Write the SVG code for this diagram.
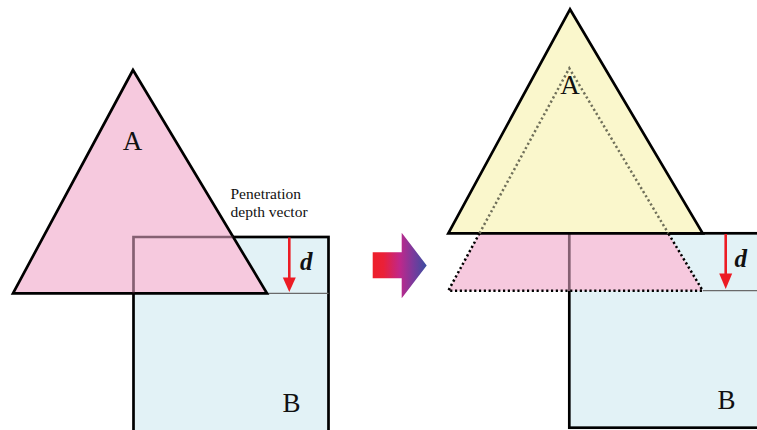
<svg xmlns="http://www.w3.org/2000/svg" width="757" height="430" viewBox="0 0 757 430">
<style>
.lbl{font-family:"Liberation Serif","Times New Roman",serif;fill:#111}
.big{font-size:27px}
.d{font-size:25px;font-weight:bold;font-style:italic}
.small{font-size:15.5px}
.edge{stroke:#000;stroke-width:2.7;stroke-linejoin:miter}
.thin{stroke:#6a6a6a;stroke-width:1.2}
.red{stroke:#ec1c24;stroke-width:2.6;fill:none}
.dot{fill:none;stroke-width:2.5;stroke-dasharray:2.2 2.6}
</style>
<defs>
<linearGradient id="g" x1="0" y1="0" x2="1" y2="0">
<stop offset="0" stop-color="#ee1f2a"/>
<stop offset="0.2" stop-color="#ea2038"/>
<stop offset="0.5" stop-color="#c0278a"/>
<stop offset="0.75" stop-color="#7a3a9c"/>
<stop offset="1" stop-color="#3a4ea0"/>
</linearGradient>
</defs>

<!-- Left diagram -->
<g id="B-left">
<rect x="133.5" y="237" width="195" height="210" fill="#e2f2f6" class="edge"/>
<line x1="267" y1="293.3" x2="328.5" y2="293.3" class="thin"/>
</g>
<g id="A-left">
<polygon points="133,70 13,293.3 267,293.3" fill="#f6c9de" class="edge"/>
</g>
<g id="B-left-outline">
<path d="M133.5,293.3 V237 H233" fill="none" stroke="#3a1a2a" stroke-opacity="0.6" stroke-width="2.7"/>
</g>
<text class="lbl big" x="132.5" y="150" text-anchor="middle">A</text>
<text class="lbl big" x="291.5" y="411.5" text-anchor="middle">B</text>
<text class="lbl small" x="230.5" y="198.5">Penetration</text>
<text class="lbl small" x="230.5" y="217">depth vector</text>
<text class="lbl d" x="300" y="270">d</text>

<!-- Right diagram -->
<g id="B-right">
<rect x="569.3" y="233.3" width="200" height="194.4" fill="#e2f2f6" class="edge"/>
<line x1="702.7" y1="290.7" x2="757" y2="290.7" class="thin"/>
</g>
<g id="A-moved">
<polygon points="479.5,233.3 668.3,233.3 702.7,290.7 448.3,290.7" fill="#f6c9de"/>
<line x1="569.3" y1="233.3" x2="569.3" y2="290.7" stroke="#3a1a2a" stroke-opacity="0.6" stroke-width="2.7"/>
<polyline points="479.5,233.3 448.3,290.7 702.7,290.7 668.3,233.3" class="dot" stroke="#000"/>
</g>
<g id="A-right">
<polygon points="570,9.3 448.3,233.3 702.7,233.3" fill="#faf7cc" class="edge"/>
<polyline points="479.5,233.3 569.3,68.3 668.3,233.3" class="dot" stroke="#70705a"/>
</g>
<text class="lbl big" x="570" y="93.5" text-anchor="middle">A</text>
<text class="lbl big" x="726.5" y="408.5" text-anchor="middle">B</text>
<text class="lbl d" x="734.5" y="267">d</text>

<g id="connectors">
<polygon points="372.7,252.3 401.7,252.3 401.7,232.7 426.7,265.5 401.7,298.3 401.7,278.3 372.7,278.3" fill="url(#g)"/>
<line x1="289.3" y1="237.5" x2="289.3" y2="279" class="red"/>
<polygon points="282.8,277.5 295.8,277.5 289.3,292" fill="#ec1c24"/>
<line x1="725.7" y1="234" x2="725.7" y2="275" class="red"/>
<polygon points="719.2,273.5 732.2,273.5 725.7,289" fill="#ec1c24"/>
</g>
</svg>
